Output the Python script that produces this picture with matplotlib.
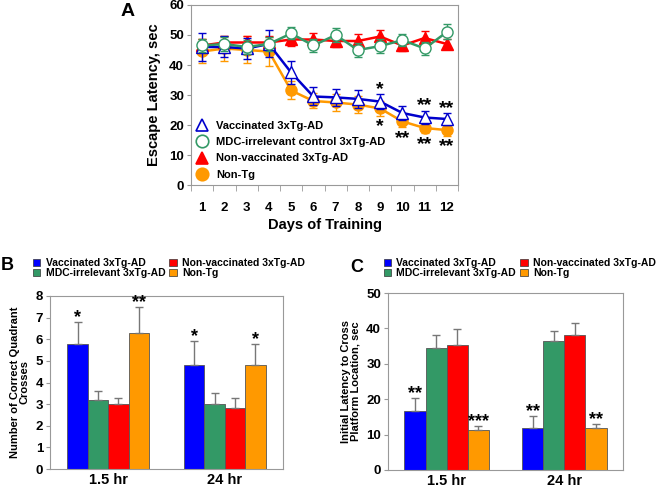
import matplotlib
matplotlib.use("Agg")
import matplotlib.pyplot as plt
import numpy as np
from matplotlib.lines import Line2D
from matplotlib.patches import Patch

plt.rcParams['font.family'] = ['Liberation Sans', 'DejaVu Sans']
plt.rcParams['font.weight'] = 'bold'
plt.rcParams['axes.labelweight'] = 'bold'

# panel A data: escape latency per training day
days = [1, 2, 3, 4, 5, 6, 7, 8, 9, 10, 11, 12]
vacc = [46.0, 46.0, 45.5, 47.0, 37.5, 29.5, 29.2, 28.7, 27.8, 24.0, 22.5, 22.0]
vacc_err = [4.8, 3.5, 3.5, 4.5, 3.8, 3.0, 2.8, 3.0, 2.5, 2.3, 2.3, 2.0]
mdc = [46.5, 47.0, 46.0, 47.0, 50.5, 46.5, 50.0, 45.0, 46.3, 48.3, 45.5, 51.0]
mdc_err = [2.3, 2.3, 2.3, 2.3, 2.0, 2.2, 2.2, 2.2, 2.2, 2.0, 2.3, 2.5]
nonvacc = [46.5, 47.5, 47.5, 47.5, 48.5, 48.5, 48.0, 48.0, 49.5, 46.5, 49.0, 47.0]
nonvacc_err = [2.3, 2.3, 2.3, 2.3, 2.2, 2.3, 2.0, 2.3, 2.3, 1.8, 2.2, 1.8]
nontg = [44.5, 45.5, 45.0, 44.5, 31.5, 28.0, 27.5, 26.8, 25.5, 21.2, 19.0, 18.3]
nontg_err = [4.0, 4.2, 4.5, 4.8, 3.0, 2.5, 2.8, 2.8, 2.5, 2.0, 1.8, 1.8]
stars_vacc = {9: '*', 11: '**', 12: '**'}
stars_nontg = {9: '*', 10: '**', 11: '**', 12: '**'}

# panels B and C: bar data
groups = ['1.5 hr', '24 hr']
bar_labels = ['Vaccinated 3xTg-AD', 'MDC-irrelevant 3xTg-AD',
              'Non-vaccinated 3xTg-AD', 'Non-Tg']
bar_colors = ['#0000FF', '#339966', '#FF0000', '#FF9900']
crosses = [[5.8, 4.8], [3.2, 3.0], [3.0, 2.8], [6.3, 4.8]]
crosses_err = [[1.0, 1.1], [0.4, 0.5], [0.3, 0.5], [1.2, 1.0]]
crosses_stars = [['*', '*'], ['', ''], ['', ''], ['**', '*']]
latency = [[16.7, 11.9], [34.6, 36.4], [35.4, 38.1], [11.2, 11.75]]
latency_err = [[3.5, 3.3], [3.6, 3.0], [4.3, 3.5], [1.1, 1.25]]
latency_stars = [['**', '**'], ['', ''], ['', ''], ['***', '**']]

W, H = 661, 488
fig = plt.figure(figsize=(W / 100, H / 100), dpi=100)


def px_axes(l, t, r, b):
    return fig.add_axes([l / W, 1 - b / H, (r - l) / W, (b - t) / H])


def style_axes(ax):
    for s in ax.spines.values():
        s.set_color('#999999')
        s.set_linewidth(0.8)
    ax.tick_params(axis='both', which='both', color='#999999', direction='out')
    ax.tick_params(axis='y', length=3, labelsize=9.5, pad=2)


# ---------------- panel A ----------------
axA = px_axes(191, 5, 458, 185)
style_axes(axA)
series = [
    (nontg, nontg_err, '#FF9900', 'o', '#FF9900', 'Non-Tg', 2),
    (nonvacc, nonvacc_err, '#FF0000', '^', '#FF0000', 'Non-vaccinated 3xTg-AD', 3),
    (vacc, vacc_err, '#0000CC', '^', 'white', 'Vaccinated 3xTg-AD', 4),
    (mdc, mdc_err, '#339966', 'o', 'white', 'MDC-irrelevant control 3xTg-AD', 5),
]
for vals, err, col, mk, fc, lab, z in series:
    axA.errorbar(days, vals, yerr=err, color=col, marker=mk, markersize=8,
                 mfc=fc, mec=col, mew=1.0, lw=1.8, elinewidth=1.0, capsize=3,
                 capthick=1.0, zorder=z)

for d, s in stars_vacc.items():
    i = days.index(d)
    axA.text(d, vacc[i] + vacc_err[i] + 1.6, s, ha='center', va='center',
             fontsize=14)
for d, s in stars_nontg.items():
    i = days.index(d)
    axA.text(d, nontg[i] - nontg_err[i] - 3.6, s, ha='center', va='center',
             fontsize=14)

axA.set_xlim(0.5, 12.5)
axA.set_ylim(0, 60)
axA.set_yticks(np.arange(0, 61, 10))
axA.set_xticks(days)
axA.set_xticks(np.arange(0.5, 13, 1), minor=True)
axA.tick_params(axis='x', which='major', length=0, labelsize=9.5, pad=12)
axA.tick_params(axis='x', which='minor', length=4)
axA.set_xlabel('Days of Training', fontsize=10.5, labelpad=3)
axA.set_ylabel('Escape Latency, sec', fontsize=10.5, labelpad=6)

leg_order = [2, 3, 1, 0]
handles = []
for k in leg_order:
    vals, err, col, mk, fc, lab, z = series[k]
    handles.append(Line2D([], [], ls='none', marker=mk, markersize=9,
                          mfc=fc, mec=col, mew=1.2, label=lab))
axA.legend(handles=handles, loc='lower left', bbox_to_anchor=(0.02, 0.03),
           frameon=False, fontsize=8, handlelength=1.0, handletextpad=0.8,
           labelspacing=0.55, borderpad=0, borderaxespad=0)
fig.text(128 / W, 1 - 11 / H, 'A', ha='center', va='center', fontsize=14)


# ---------------- panels B and C ----------------
def bar_panel(ax, data, err, stars, ylim, yticks, width, star_off):
    style_axes(ax)
    x = np.arange(len(groups))
    for j in range(4):
        pos = x + (j - 1.5) * width
        ax.bar(pos, data[j], width, color=bar_colors[j], edgecolor='#555555',
               linewidth=0.6, yerr=[np.zeros(len(groups)), err[j]],
               error_kw=dict(ecolor='#777777', elinewidth=1.0, capsize=3,
                             capthick=1.0), zorder=2)
        for g in range(len(groups)):
            if stars[j][g]:
                ax.text(pos[g], data[j][g] + err[j][g] + star_off, stars[j][g],
                        ha='center', va='center', fontsize=13)
    ax.set_xlim(-0.5, len(groups) - 0.5)
    ax.set_ylim(*ylim)
    ax.set_yticks(yticks)
    ax.set_xticks(x)
    ax.set_xticklabels(groups)
    ax.tick_params(axis='x', length=0, labelsize=10.5, pad=3)


axB = px_axes(50, 296, 283, 469)
bar_panel(axB, crosses, crosses_err, crosses_stars, (0, 8), np.arange(0, 9, 1),
          0.175, 0.2)
axB.set_ylabel('Number of Correct Quadrant\nCrosses', fontsize=8,
               linespacing=1.0, labelpad=4)

axC = px_axes(388, 293, 623, 470)
bar_panel(axC, latency, latency_err, latency_stars, (0, 50),
          np.arange(0, 51, 10), 0.18, 1.3)
axC.set_ylabel('Initial Latency to Cross\nPlatform Location, sec', fontsize=8,
               linespacing=1.0, labelpad=4)

patches = [Patch(facecolor=c, edgecolor='#333333', linewidth=0.5, label=l)
           for c, l in zip(bar_colors, bar_labels)]
for left in (33, 384):
    fig.legend(handles=patches, ncol=2, loc='upper left',
               bbox_to_anchor=(left / W, 1 - 258 / H), frameon=False,
               fontsize=7.5, handlelength=0.7, handleheight=0.7,
               handletextpad=0.5, columnspacing=0.4, labelspacing=0.0,
               borderpad=0, borderaxespad=0)
fig.text(7 / W, 1 - 266 / H, 'B', ha='center', va='center', fontsize=13)
fig.text(357 / W, 1 - 267 / H, 'C', ha='center', va='center', fontsize=13)

fig.savefig('out.png', dpi=100)
